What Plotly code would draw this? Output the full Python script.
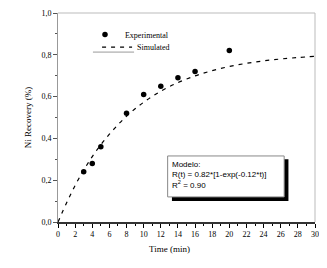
import plotly.graph_objects as go

exp_time = [3, 4, 5, 8, 10, 12, 14, 16, 20]
exp_recovery = [0.24, 0.28, 0.36, 0.52, 0.61, 0.65, 0.69, 0.72, 0.82]

sim_time = [0, 2, 4, 6, 8, 10, 12, 14, 16, 18, 20, 22, 24, 26, 28, 30]
sim_recovery = [0.0, 0.175, 0.313, 0.420, 0.506, 0.573, 0.626, 0.667, 0.699,
                0.724, 0.744, 0.759, 0.771, 0.780, 0.787, 0.793]

x_ticks = list(range(0, 31, 2))
y_ticks = [0.0, 0.2, 0.4, 0.6, 0.8, 1.0]

SERIF = "Liberation Serif"

fig = go.Figure()
fig.add_trace(go.Scatter(
    x=sim_time, y=sim_recovery, mode="lines", name="Simulated", legend="legend2",
    line=dict(color="black", width=1.2, dash="4px,5px", shape="spline"),
))
fig.add_trace(go.Scatter(
    x=exp_time, y=exp_recovery, mode="markers", name="Experimental", legend="legend",
    marker=dict(color="black", size=5.5, symbol="circle"),
))

# annotation box with shadow
fig.add_shape(type="rect", xref="x", yref="y", x0=13.3, x1=26.9, y0=0.100, y1=0.300,
              fillcolor="black", line=dict(width=0), layer="above")
fig.add_shape(type="rect", xref="x", yref="y", x0=12.8, x1=26.4, y0=0.120, y1=0.316,
              fillcolor="white", line=dict(color="#888", width=1), layer="above")
fig.add_annotation(
    x=13.1, y=0.308, xref="x", yref="y", xanchor="left", yanchor="top",
    text="Modelo:<br>R(t) = 0.82*[1-exp(-0.12*t)]<br>R<sup>2</sup> = 0.90",
    showarrow=False, align="left",
    font=dict(family="Liberation Sans", size=8, color="black"),
)

# frame top/right
fig.add_shape(type="line", xref="paper", yref="paper", x0=0, x1=1, y0=1, y1=1,
              line=dict(color="#bbb", width=1))
fig.add_shape(type="line", xref="paper", yref="paper", x0=1, x1=1, y0=0, y1=1,
              line=dict(color="#bbb", width=1))
# thin gray rule under legend
fig.add_shape(type="line", xref="paper", yref="paper", x0=0.136, x1=0.296,
              y0=0.813, y1=0.813, line=dict(color="#999", width=1))

# x axis title as annotation (offset left, as in reference)
fig.add_annotation(x=0.432, y=-0.13, xref="paper", yref="paper",
                   xanchor="center", yanchor="middle", showarrow=False,
                   text="Time (min)", font=dict(family=SERIF, size=9, color="black"))

legend_common = dict(xanchor="left", yanchor="top", bgcolor="rgba(0,0,0,0)",
                     font=dict(family=SERIF, size=8, color="black"), itemwidth=30)

# page body has an 8px default margin, so the figure is sized/offset to compensate
fig.update_layout(
    width=319, height=260,
    margin=dict(l=50, r=12, t=5, b=46),
    paper_bgcolor="white", plot_bgcolor="white",
    separators=",.",
    showlegend=True,
    legend=dict(x=0.105, y=0.966, **legend_common),
    legend2=dict(x=0.152, y=0.906, **legend_common),
    font=dict(family=SERIF, color="black"),
    xaxis=dict(
        range=[0, 30], tickvals=x_ticks, ticktext=[str(v) for v in x_ticks],
        ticks="outside", ticklen=4, tickwidth=1, tickcolor="black",
        minor=dict(ticks="outside", ticklen=2, dtick=1, tickcolor="black"),
        showline=True, linecolor="#333", linewidth=1.5,
        showgrid=False, zeroline=False, automargin=False,
        tickfont=dict(family=SERIF, size=8),
    ),
    yaxis=dict(
        range=[0, 1.0], tickvals=y_ticks, tickformat=".1f",
        ticks="outside", ticklen=4, tickwidth=1, tickcolor="#555",
        minor=dict(ticks="outside", ticklen=2, dtick=0.1, tickcolor="#555"),
        showline=True, linecolor="#999", linewidth=1,
        showgrid=False, zeroline=False, automargin=False,
        tickfont=dict(family=SERIF, size=8),
        title=dict(text="Ni Recovery (%)", font=dict(family=SERIF, size=9), standoff=8),
    ),
)

fig.write_html("out.html")
